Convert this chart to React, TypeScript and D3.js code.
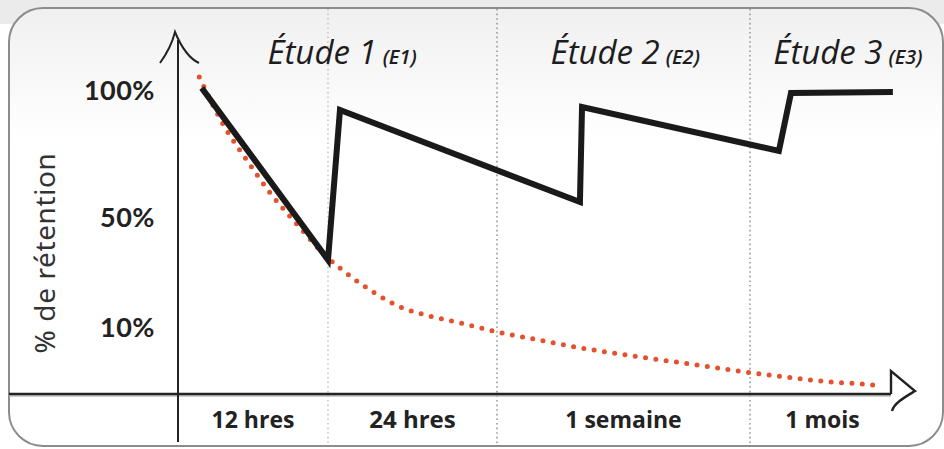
import React, { useEffect } from "react";
import * as d3 from "d3";

// hours since learning -> % retained
const forgetHours = [1.7, 3.6, 5.5, 7.5, 9.7, 12, 13.2, 15.1, 17.0, 19.2, 21.4, 24, 45, 69, 93, 117, 141, 165, 309, 473, 594, 674];
const forgetPct = [105.1, 86.6, 72.4, 58.7, 46.4, 35.1, 30.0, 23.1, 17.6, 14.0, 11.5, 9.25, 8.2, 7.0, 6.0, 5.1, 4.2, 3.3, 2.5, 1.8, 1.5, 1.2];

const reviewHours = [1.9, 12, 12.85, 71.2, 72.4, 278, 324, 712];
const reviewPct = [100.8, 34.4, 92.1, 55.9, 93.3, 76.0, 98.8, 99.2];

const periodBounds = [0, 12, 24, 168, 720];
const periodLabels = ["12 hres", "24 hres", "1 semaine", "1 mois"];

const yTicks = [100, 50, 10];

const studyTitles = ["Étude 1", "Étude 2", "Étude 3"];
const studyTags = ["(E1)", "(E2)", "(E3)"];
const studyAt = [13, 97, 541];

const W = 944;
const H = 449;

export default function App() {
  useEffect(() => {
    document.body.style.margin = "0";
  }, []);

  const x = d3.scaleLinear().domain(periodBounds).range([178, 328, 497, 750, 895]);
  const y = d3.scaleLinear().domain([0, 10, 50, 100]).range([394, 327, 217, 90]);

  const line = d3
    .line<[number, number]>()
    .x((d) => x(d[0]))
    .y((d) => y(d[1]));

  const forget: [number, number][] = forgetHours.map((h, i) => [h, forgetPct[i]]);
  const review: [number, number][] = reviewHours.map((h, i) => [h, reviewPct[i]]);
  const curve = line.curve(d3.curveMonotoneX)(forget) as string;
  const reviewPath = d3
    .line<[number, number]>()
    .x((d) => x(d[0]))
    .y((d) => y(d[1]))(review) as string;

  const axisY = y(0);
  const axisX = x(0);
  const hand = "'Open Sans', 'DejaVu Sans', sans-serif";

  return (
    <svg width={W} height={H} style={{ display: "block" }}>
      <defs>
        <linearGradient id="bg" x1="0" y1="0" x2="0" y2="1">
          <stop offset="0" stopColor="#f0f0f0" />
          <stop offset="0.3" stopColor="#ffffff" />
        </linearGradient>
      </defs>
      <rect x={0} y={0} width={W} height={H} fill="#fff" />
      <rect x={0} y={0} width={W} height={24} fill="#ebebeb" />
      <rect x={9} y={8} width={934} height={438} rx={34} fill="url(#bg)" stroke="#8c8c8c" strokeWidth={2} />

      {/* period separators */}
      {periodBounds.slice(1, 4).map((b, i) => (
        <line
          key={b}
          x1={x(b)}
          x2={x(b)}
          y1={9}
          y2={446}
          stroke={i === 0 ? "#c8c8c8" : "#9a9a9a"}
          strokeWidth={1.6}
          strokeDasharray="1.6 3"
        />
      ))}

      {/* x axis */}
      <line x1={9} x2={891} y1={axisY + 2} y2={axisY + 2} stroke="#bdbdbd" strokeWidth={1.5} />
      <line x1={9} x2={891} y1={axisY} y2={axisY} stroke="#222" strokeWidth={2.6} />
      <path
        d={`M${891},${axisY} L${891},${axisY - 23} L${915},${axisY - 3} C${905},${axisY + 3} ${894},${axisY + 9} ${892},${axisY + 17}`}
        fill="none"
        stroke="#222"
        strokeWidth={2.4}
        strokeLinejoin="miter"
      />

      {/* y axis */}
      <line x1={axisX} x2={axisX} y1={40} y2={442} stroke="#222" strokeWidth={2} />
      <path
        d={`M${axisX - 18},${63} C${axisX - 10},${52} ${axisX - 5},${40} ${axisX - 3},${32} C${axisX + 2},${44} ${axisX + 10},${58} ${axisX + 21},${63}`}
        fill="none"
        stroke="#222"
        strokeWidth={2}
      />

      {/* y ticks */}
      {yTicks.map((t) => (
        <text
          key={t}
          x={155}
          y={y(t)}
          dy="0.36em"
          textAnchor="end"
          fontFamily="Lato, 'Open Sans', sans-serif"
          fontWeight={700}
          fontSize={27}
          letterSpacing={0.5}
          fill="#222"
        >
          {t}%
        </text>
      ))}

      <text
        transform={`translate(55,${253}) rotate(-90)`}
        textAnchor="middle"
        fontFamily="'Noto Sans', 'DejaVu Sans', sans-serif"
        fontSize={28}
        letterSpacing={0.6}
        fill="#333"
      >
        % de rétention
      </text>

      {/* period labels */}
      {periodLabels.map((l, i) => (
        <text
          key={l}
          x={(x(periodBounds[i]) + x(periodBounds[i + 1])) / 2}
          y={428}
          textAnchor="middle"
          fontFamily="'Open Sans', Lato, sans-serif"
          fontWeight={700}
          fontSize={i === 1 ? 24 : 23}
          fill="#222"
        >
          {l}
        </text>
      ))}

      {/* study titles */}
      {studyTitles.map((t, i) => (
        <text
          key={t}
          x={x(studyAt[i])}
          y={64}
          textAnchor="middle"
          fontFamily={hand}
          fontStyle="italic"
          fill="#1d1d1d"
        >
          <tspan fontSize={33}>{t}</tspan>
          <tspan fontSize={20} fontWeight={600} dx={6}>
            {studyTags[i]}
          </tspan>
        </text>
      ))}

      {/* forgetting curve */}
      <path
        d={curve}
        fill="none"
        stroke="#e5502d"
        strokeWidth={5}
        strokeLinecap="round"
        strokeDasharray="0 10.4"
      />

      {/* retention with reviews */}
      <path d={reviewPath} fill="none" stroke="#1a1a1a" strokeWidth={6} strokeLinejoin="miter" strokeMiterlimit={8} />
    </svg>
  );
}
